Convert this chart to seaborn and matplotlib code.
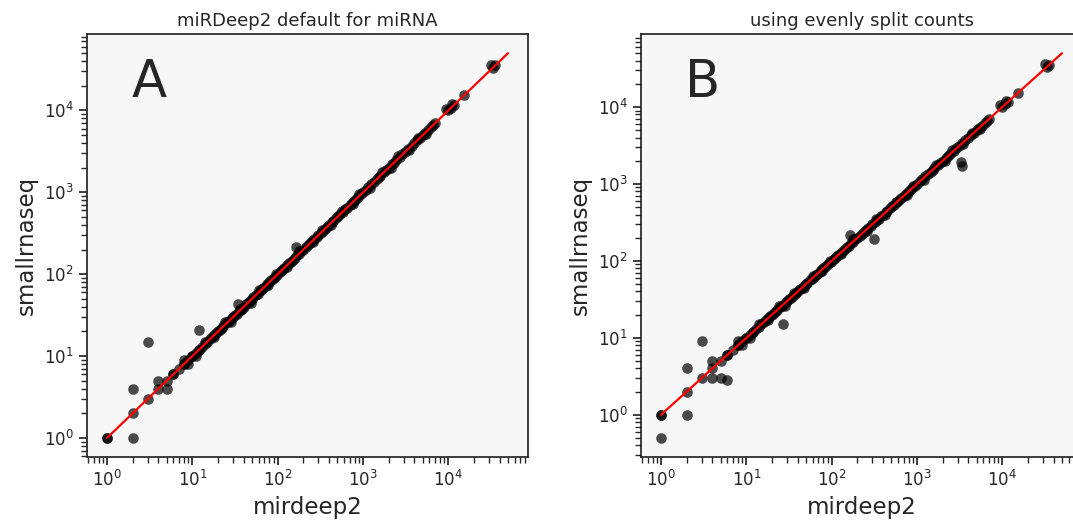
import matplotlib
matplotlib.use("Agg")
import numpy as np
import pandas as pd
import matplotlib.pyplot as plt
import seaborn as sns

# miRNA counts that fall on the diagonal in both panels
diag_counts = [1, 1, 2, 3, 4, 5, 6, 6, 7, 8, 8, 9, 10, 10, 11, 12, 12, 13, 14, 15, 16, 17, 18, 19,
               20, 21, 22, 23, 25, 26, 27, 29, 30, 32, 33, 35, 37, 38, 40, 43, 45, 47, 50, 52, 56,
               58, 62, 65, 68, 72, 75, 80, 84, 88, 93, 98, 105, 110, 116, 120, 128, 135, 142, 150,
               158, 170, 178, 190, 200, 212, 225, 240, 255, 268, 285, 300, 320, 340, 355, 380, 400,
               430, 450, 480, 510, 540, 580, 620, 650, 700, 740, 790, 830, 880, 950, 1000, 1080,
               1150, 1250, 1350, 1450, 1520, 1600, 1750, 1850, 2000, 2200, 2300, 2450, 2700, 2900,
               3100, 3400, 3700, 4000, 4300, 4600, 5000, 5300, 5700, 6200, 6600, 7000, 10000,
               10800, 11500, 15300, 33000, 35500]

# points just beside the diagonal (thicken the band), shared by both panels
near_x = [8, 11, 14, 18, 24, 28, 36, 48, 60, 78, 95, 130, 180, 260, 330, 420, 560, 760, 900,
          1200, 1650, 2100, 2600, 3500, 4400, 5500, 9500, 11000, 32000]
near_y = [9, 10, 15, 17, 26, 26, 38, 45, 64, 74, 100, 124, 190, 248, 345, 400, 590, 720, 950,
          1130, 1750, 2000, 2750, 3300, 4600, 5200, 10500, 12000, 36000]

# panel A: points that sit off the diagonal
a_off_x = [2, 2, 3, 4, 5, 9, 12, 34, 165]
a_off_y = [4, 1, 15, 5, 4, 8, 21, 43, 215]

# panel B: points that sit off the diagonal
b_off_x = [1, 2, 2, 3, 4, 4, 5, 6, 9, 27, 165, 310, 3250, 3350]
b_off_y = [0.5, 1, 4, 9, 3, 5, 3, 2.8, 8, 15, 218, 195, 1900, 1700]

line_x = [1, 50000]

titles = ["miRDeep2 default for miRNA", "using evenly split counts"]
letters = ["A", "B"]

sns.set_theme(style="ticks", rc={"axes.facecolor": "#f7f7f7"})

fig = plt.figure(figsize=(10.73, 5.23), dpi=100)
ax_a = fig.add_axes([0.0811, 0.126, 0.411, 0.809])
ax_b = fig.add_axes([0.5974, 0.126, 0.411, 0.809])

panels = [
    (ax_a, diag_counts + near_x + a_off_x, diag_counts + near_y + a_off_y),
    (ax_b, diag_counts + near_x + b_off_x, diag_counts + near_y + b_off_y),
]

for i, (ax, xs, ys) in enumerate(panels):
    df = pd.DataFrame({"mirdeep2": xs, "smallrnaseq": ys})
    sns.scatterplot(data=df, x="mirdeep2", y="smallrnaseq", ax=ax,
                    color="black", alpha=0.7, s=58, linewidth=0)
    ax.plot(line_x, line_x, color="red", lw=1.6)
    ax.set_xscale("log")
    ax.set_yscale("log")
    ax.set_title(titles[i], fontsize=13)
    ax.set_xlabel("mirdeep2", fontsize=16.5)
    ax.set_ylabel("smallrnaseq", fontsize=16.5)
    ax.tick_params(labelsize=12)
    ax.text(0.1, 0.85, letters[i], transform=ax.transAxes, fontsize=37,
            color="#262626")

fig.savefig("out.png", dpi=100)
